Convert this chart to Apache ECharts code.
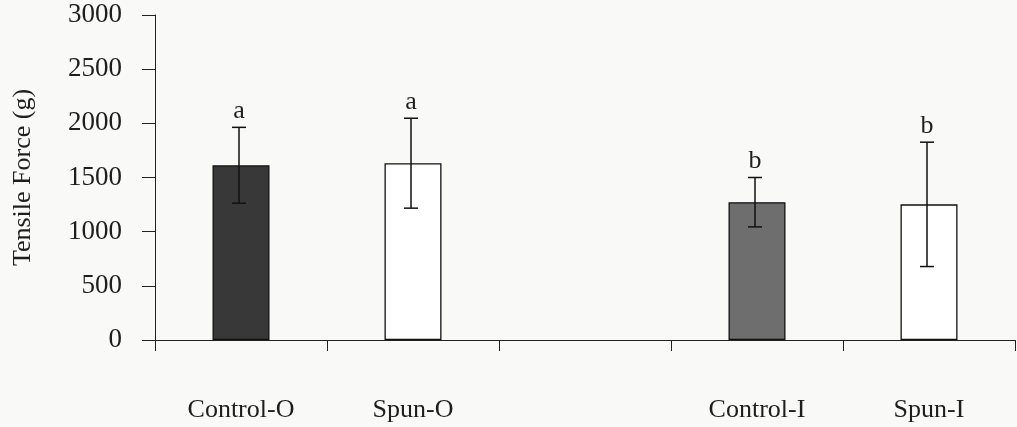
<!DOCTYPE html>
<html>
<head>
<meta charset="utf-8">
<script src="https://cdn.jsdelivr.net/npm/echarts@6/dist/echarts.min.js"></script>
<style>
html,body{margin:0;padding:0;background:#f9f9f7;}
#chart{width:1017px;height:427px;}
</style>
</head>
<body>
<div id="chart"></div>
<script>
// ---- data ----
var categories = ['Control-O', 'Spun-O', '', 'Control-I', 'Spun-I'];
var means = [1613, 1632, null, 1272, 1252];
var errors = [350, 415, null, 228, 574];
var letters = ['a', 'a', '', 'b', 'b'];
var yTicks = [0, 500, 1000, 1500, 2000, 2500, 3000];

var FONT = '"Liberation Serif", "Times New Roman", serif';
var barColors = ['#383838', '#ffffff', '#ffffff', '#6e6e6e', '#ffffff'];

var barData = means.map(function (v, i) {
  return { value: v, itemStyle: { color: barColors[i] } };
});
var errData = means.map(function (v, i) {
  return v == null ? [i, null, null] : [i, v - errors[i], v + errors[i]];
});

var chart = echarts.init(document.getElementById('chart'), null, { renderer: 'canvas' });
chart.setOption({
  backgroundColor: '#f9f9f7',
  animation: false,
  grid: { left: 155, right: 2, top: 15, bottom: 87, containLabel: false },
  xAxis: {
    type: 'category',
    data: categories,
    boundaryGap: true,
    axisLine: { lineStyle: { color: '#222', width: 1 } },
    axisTick: { show: true, length: 11, inside: false, lineStyle: { color: '#222' } },
    axisLabel: { margin: 57, fontFamily: FONT, fontSize: 26, color: '#1e1e1e' }
  },
  yAxis: {
    type: 'value',
    min: yTicks[0],
    max: yTicks[yTicks.length - 1],
    interval: yTicks[1] - yTicks[0],
    name: 'Tensile Force (g)',
    nameLocation: 'middle',
    nameGap: 119,
    nameTextStyle: { fontFamily: FONT, fontSize: 26, color: '#1e1e1e' },
    axisLine: { show: true, lineStyle: { color: '#222', width: 1 } },
    axisTick: { show: true, length: 13, lineStyle: { color: '#222' } },
    splitLine: { show: false },
    axisLabel: {
      margin: 33, fontFamily: FONT, fontSize: 27, color: '#1e1e1e',
      formatter: function (v) { return String(v); }
    }
  },
  series: [
    {
      type: 'bar',
      data: barData,
      barWidth: 57,
      itemStyle: { borderColor: '#111', borderWidth: 1.3 }
    },
    {
      type: 'custom',
      data: errData,
      z: 10,
      renderItem: function (params, api) {
        var lo = api.value(1), hi = api.value(2);
        if (lo == null || isNaN(lo)) return null;
        var idx = api.value(0);
        var pLo = api.coord([idx, lo]);
        var pHi = api.coord([idx, hi]);
        var x = pLo[0] - 2;
        var cap = 7;
        var st = { stroke: '#111', lineWidth: 1.5 };
        return {
          type: 'group',
          children: [
            { type: 'line', shape: { x1: x, y1: pLo[1], x2: x, y2: pHi[1] }, style: st },
            { type: 'line', shape: { x1: x - cap, y1: pLo[1], x2: x + cap, y2: pLo[1] }, style: st },
            { type: 'line', shape: { x1: x - cap, y1: pHi[1], x2: x + cap, y2: pHi[1] }, style: st },
            { type: 'text', style: { text: letters[idx], x: x, y: pHi[1] - 3, align: 'center', verticalAlign: 'bottom',
              font: '26px ' + FONT, fill: '#1e1e1e' } }
          ]
        };
      }
    }
  ]
});
</script>
</body>
</html>
